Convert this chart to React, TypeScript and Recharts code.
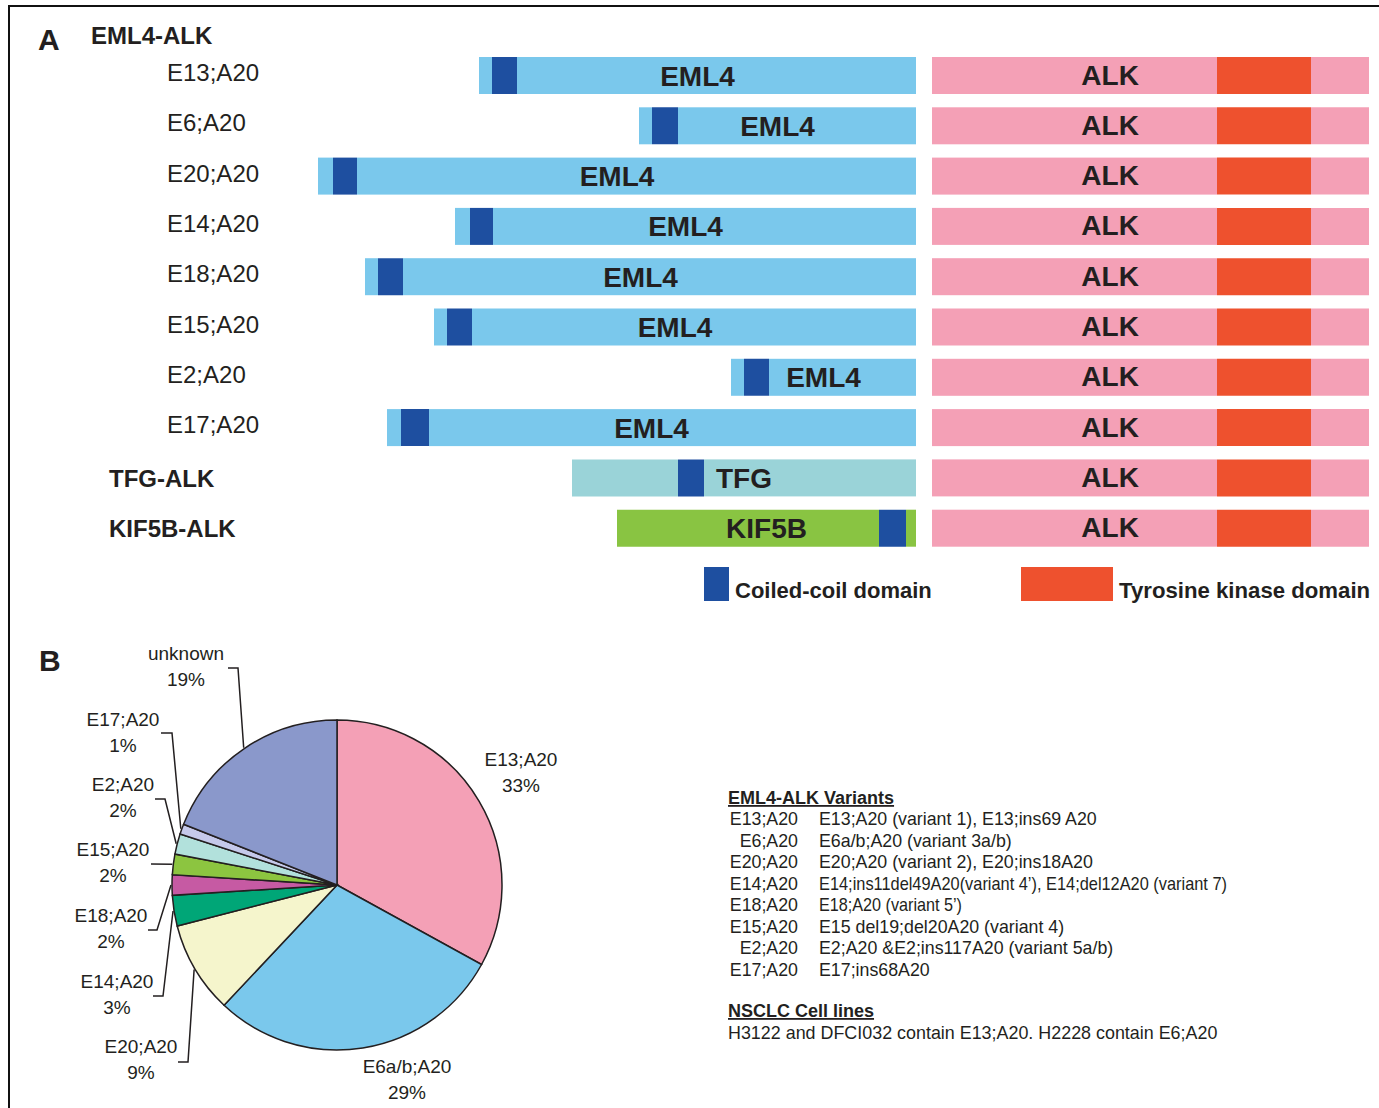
import { BarChart, Bar, XAxis, YAxis, Cell, PieChart, Pie } from 'recharts';

const FONT = '"Liberation Sans", Arial, Helvetica, sans-serif';
const INK = '#231F20';

// ---- panel A: fusion architecture, one row per fusion ----
const ROWS = ['E13;A20', 'E6;A20', 'E20;A20', 'E14;A20', 'E18;A20', 'E15;A20', 'E2;A20', 'E17;A20', 'TFG-ALK', 'KIF5B-ALK'];
const FUSION_HEADERS = ['TFG-ALK', 'KIF5B-ALK'];
const PARTNERS = ['EML4', 'EML4', 'EML4', 'EML4', 'EML4', 'EML4', 'EML4', 'EML4', 'TFG', 'KIF5B'];
// retained 5' partner length, and its coiled-coil domain (offset from partner start, length)
const PARTNER_LEN = [437, 277, 598, 461, 551, 482, 185, 529, 344, 299];
const CC_START = [13, 13, 15, 15, 13, 13, 13, 14, 106, 262];
const CC_LEN = [25, 26, 24, 23, 25, 25, 25, 28, 26, 27];
// 3' ALK portion with the tyrosine kinase domain
const ALK_PRE_TK = 285;
const ALK_TK = 94;
const ALK_POST_TK = 58;

const FRAME = 616; // partners are right-aligned on the fusion junction
const JUNCTION = 16;

const PARTNER_COLOR: Record<string, string> = { EML4: '#7AC8EC', TFG: '#9AD3D8', KIF5B: '#89C442' };
const CC_COLOR = '#1E4FA0';
const ALK_COLOR = '#F4A0B6';
const TK_COLOR = '#EE512E';

const fusionData = ROWS.map((row, i) => ({
  row,
  partner: PARTNERS[i],
  color: PARTNER_COLOR[PARTNERS[i]],
  len: PARTNER_LEN[i],
  pad: FRAME - PARTNER_LEN[i],
  pre: CC_START[i],
  cc: CC_LEN[i],
  post: PARTNER_LEN[i] - CC_START[i] - CC_LEN[i],
  gap: JUNCTION,
  alkPre: ALK_PRE_TK,
  tk: ALK_TK,
  alkPost: ALK_POST_TK,
}));

// ---- panel B: frequency of variants ----
const PIE_NAMES = ['E13;A20', 'E6a/b;A20', 'E20;A20', 'E14;A20', 'E18;A20', 'E15;A20', 'E2;A20', 'E17;A20', 'unknown'];
const PIE_PCT = [33, 29, 9, 3, 2, 2, 2, 1, 19];
const PIE_COLORS = ['#F4A0B6', '#7AC8EC', '#F5F5CC', '#00A677', '#C65AA3', '#8CC540', '#B2E1DC', '#C5C9EA', '#8A98CB'];

const pieData = PIE_NAMES.map((name, i) => ({ name, value: PIE_PCT[i] }));

// where each slice label sits: centre x, first baseline, optional leader elbow [x1, y, x2]
const LABEL_SPOTS: { x: number; y: number; elbow?: [number, number, number] }[] = [
  { x: 521, y: 146 },
  { x: 407, y: 453 },
  { x: 141, y: 433, elbow: [178, 442, 188] },
  { x: 117, y: 368, elbow: [153, 376, 163] },
  { x: 111, y: 302, elbow: [148, 310, 157] },
  { x: 113, y: 236, elbow: [151, 244, 151] },
  { x: 123, y: 171, elbow: [155, 179, 165] },
  { x: 123, y: 106, elbow: [161, 113, 172] },
  { x: 186, y: 40, elbow: [228, 48, 238] },
];

// ---- variant key table ----
const VARIANT_KEYS = ['E13;A20', 'E6;A20', 'E20;A20', 'E14;A20', 'E18;A20', 'E15;A20', 'E2;A20', 'E17;A20'];
const VARIANT_DESC = [
  'E13;A20 (variant 1), E13;ins69 A20',
  'E6a/b;A20 (variant 3a/b)',
  'E20;A20 (variant 2), E20;ins18A20',
  'E14;ins11del49A20(variant 4\u2019), E14;del12A20 (variant 7)',
  'E18;A20 (variant 5\u2019)',
  'E15 del19;del20A20 (variant 4)',
  'E2;A20 &E2;ins117A20 (variant 5a/b)',
  'E17;ins68A20',
];
// the two lines that are set narrower
const NARROW: Record<number, number> = { 3: 408, 4: 143 };

function RowTick(props: any) {
  const { y, payload } = props;
  const header = FUSION_HEADERS.includes(payload.value);
  return (
    <text
      x={header ? 109 : 167}
      y={y + (header ? 9 : 6)}
      fontFamily={FONT}
      fontSize={24}
      fontWeight={header ? 700 : 400}
      fill={INK}
    >
      {payload.value}
    </text>
  );
}

// last partner segment also carries the partner name, centred on the whole partner
function PartnerTail(props: any) {
  const { x, y, width, height, payload } = props;
  const full = (width * payload.len) / payload.post;
  const mid = x + width - full / 2;
  return (
    <g>
      <rect x={x} y={y} width={width} height={height} fill={payload.color} />
      <text x={mid} y={y + height / 2 + 10} textAnchor="middle" fontFamily={FONT} fontSize={28} fontWeight={700} fill={INK}>
        {payload.partner}
      </text>
    </g>
  );
}

function AlkHead(props: any) {
  const { x, y, width, height } = props;
  return (
    <g>
      <rect x={x} y={y} width={width} height={height} fill={ALK_COLOR} />
      <text x={x + width * 0.625} y={y + height / 2 + 9} textAnchor="middle" fontFamily={FONT} fontSize={28} fontWeight={700} fill={INK}>
        ALK
      </text>
    </g>
  );
}

function renderPieLabel(p: any) {
  const spot = LABEL_SPOTS[p.index];
  const rad = Math.PI / 180;
  const cx = p.cx ?? 337;
  const cy = p.cy ?? 265;
  const r = (p.outerRadius ?? 165) + 1;
  const ex = cx + r * Math.cos(-p.midAngle * rad);
  const ey = cy + r * Math.sin(-p.midAngle * rad);
  return (
    <g key={`lbl-${p.index}`}>
      {spot.elbow && (
        <polyline
          points={`${spot.elbow[0]},${spot.elbow[1]} ${spot.elbow[2]},${spot.elbow[1]} ${ex},${ey}`}
          fill="none"
          stroke={INK}
          strokeWidth={1.5}
        />
      )}
      <text x={spot.x} y={spot.y} textAnchor="middle" fontFamily={FONT} fontSize={19} fill={INK}>
        {PIE_NAMES[p.index]}
      </text>
      <text x={spot.x} y={spot.y + 26} textAnchor="middle" fontFamily={FONT} fontSize={19} fill={INK}>
        {PIE_PCT[p.index]}%
      </text>
    </g>
  );
}

export default function App() {
  return (
    <div style={{ position: 'absolute', left: 0, top: 0, width: 1379, height: 1108, background: '#fff', overflow: 'hidden', fontFamily: FONT }}>
      <div style={{ position: 'absolute', left: 8, top: 5, width: 1371, height: 1103, borderTop: '2px solid #111', borderLeft: '2px solid #111' }} />

      <div style={{ position: 'absolute', left: 0, top: 0 }}>
        <BarChart width={1379} height={600} layout="vertical" data={fusionData} margin={{ top: 50, right: 10, bottom: 47, left: 0 }} barSize={37}>
          <XAxis type="number" hide domain={[0, FRAME + JUNCTION + ALK_PRE_TK + ALK_TK + ALK_POST_TK]} />
          <YAxis type="category" dataKey="row" width={300} axisLine={false} tickLine={false} interval={0} tick={(p: any) => <RowTick {...p} />} />
          <Bar dataKey="pad" stackId="f" fill="transparent" isAnimationActive={false} />
          <Bar dataKey="pre" stackId="f" isAnimationActive={false}>
            {fusionData.map((d) => (
              <Cell key={d.row} fill={d.color} />
            ))}
          </Bar>
          <Bar dataKey="cc" stackId="f" fill={CC_COLOR} isAnimationActive={false} />
          <Bar dataKey="post" stackId="f" shape={PartnerTail} isAnimationActive={false} />
          <Bar dataKey="gap" stackId="f" fill="transparent" isAnimationActive={false} />
          <Bar dataKey="alkPre" stackId="f" shape={AlkHead} isAnimationActive={false} />
          <Bar dataKey="tk" stackId="f" fill={TK_COLOR} isAnimationActive={false} />
          <Bar dataKey="alkPost" stackId="f" fill={ALK_COLOR} isAnimationActive={false} />
        </BarChart>
      </div>

      <div style={{ position: 'absolute', left: 0, top: 620 }}>
        <PieChart width={700} height={488} margin={{ top: 0, right: 0, bottom: 0, left: 0 }}>
          <Pie
            data={pieData}
            dataKey="value"
            nameKey="name"
            cx={337}
            cy={265}
            outerRadius={165}
            startAngle={90}
            endAngle={-270}
            stroke={INK}
            strokeWidth={1.5}
            labelLine={false}
            label={renderPieLabel}
            isAnimationActive={false}
          >
            {pieData.map((d, i) => (
              <Cell key={d.name} fill={PIE_COLORS[i]} />
            ))}
          </Pie>
        </PieChart>
      </div>

      <svg width={1379} height={1108} style={{ position: 'absolute', left: 0, top: 0, pointerEvents: 'none' }}>
        <text x={38} y={50} fontFamily={FONT} fontSize={30} fontWeight={700} fill={INK}>A</text>
        <text x={91} y={44} fontFamily={FONT} fontSize={24} fontWeight={700} fill={INK}>EML4-ALK</text>

        <rect x={704} y={567} width={25} height={34} fill={CC_COLOR} />
        <text x={735} y={598} fontFamily={FONT} fontSize={22} fontWeight={700} fill={INK}>Coiled-coil domain</text>
        <rect x={1021} y={567} width={92} height={34} fill={TK_COLOR} />
        <text x={1119} y={598} fontFamily={FONT} fontSize={22.2} fontWeight={700} fill={INK}>Tyrosine kinase domain</text>

        <text x={39} y={671} fontFamily={FONT} fontSize={30} fontWeight={700} fill={INK}>B</text>

        <text x={728} y={804} fontFamily={FONT} fontSize={18} fontWeight={700} fill={INK} style={{ textDecoration: 'underline' }}>
          EML4-ALK Variants
        </text>
        {VARIANT_KEYS.map((k, i) => (
          <g key={k}>
            <text x={798} y={825 + i * 21.5} textAnchor="end" fontFamily={FONT} fontSize={17.8} fill={INK}>{k}</text>
            <text
              x={819}
              y={825 + i * 21.5}
              fontFamily={FONT}
              fontSize={17.8}
              fill={INK}
              {...(NARROW[i] ? { textLength: NARROW[i], lengthAdjust: 'spacingAndGlyphs' } : {})}
            >
              {VARIANT_DESC[i]}
            </text>
          </g>
        ))}
        <text x={728} y={1017} fontFamily={FONT} fontSize={18} fontWeight={700} fill={INK} style={{ textDecoration: 'underline' }}>
          NSCLC Cell lines
        </text>
        <text x={728} y={1039} fontFamily={FONT} fontSize={17.9} fill={INK}>
          H3122 and DFCI032 contain E13;A20. H2228 contain E6;A20
        </text>
      </svg>
    </div>
  );
}
